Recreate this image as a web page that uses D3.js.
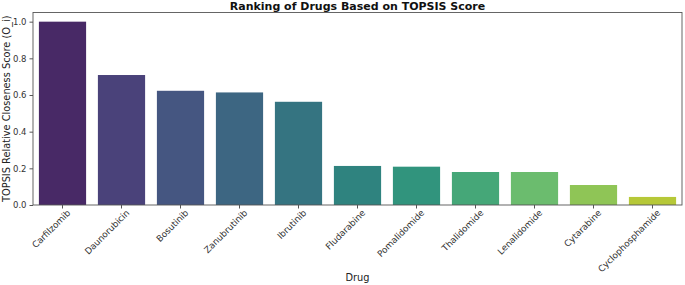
<!DOCTYPE html>
<html>
<head>
<meta charset="utf-8">
<script src="https://cdn.jsdelivr.net/npm/d3@7"></script>
<style>
  body { margin: 0; background: #fff; }
  text { font-family: "DejaVu Sans", sans-serif; }
</style>
</head>
<body>
<div id="chart"></div>
<script>
// data
const drugs = ["Carfilzomib", "Daunorubicin", "Bosutinib", "Zanubrutinib", "Ibrutinib",
  "Fludarabine", "Pomalidomide", "Thalidomide", "Lenalidomide", "Cytarabine", "Cyclophosphamide"];
const scores = [1.0, 0.709, 0.623, 0.614, 0.563, 0.213, 0.209, 0.180, 0.180, 0.109, 0.044];
const yTicks = [0.0, 0.2, 0.4, 0.6, 0.8, 1.0];

const W = 685, H = 285;
const margin = {top: 12.5, right: 3, bottom: 80, left: 33};
const width = W - margin.left - margin.right,
    height = H - margin.top - margin.bottom;

const svg = d3.select("#chart").append("svg")
    .attr("width", W)
    .attr("height", H);

const g = svg.append("g")
    .attr("transform", "translate(" + margin.left + "," + margin.top + ")");

const x = d3.scaleBand()
    .domain(drugs)
    .range([0, width])
    .paddingInner(0.2)
    .paddingOuter(0.1);

const y = d3.scaleLinear()
    .domain([0, 1.05])
    .range([height, 0]);

// seaborn viridis palette, desaturated by 0.75
const color = function(i) {
    const c = d3.hsl(d3.interpolateViridis((i + 1) / (drugs.length + 1)));
    c.s *= 0.75;
    return c.formatHex();
};

g.selectAll("rect.bar")
    .data(drugs)
    .enter()
    .append("rect")
    .attr("class", "bar")
    .attr("x", d => x(d))
    .attr("y", (d, i) => y(scores[i]))
    .attr("width", x.bandwidth())
    .attr("height", (d, i) => height - y(scores[i]))
    .attr("fill", (d, i) => color(i));

// frame
g.append("rect")
    .attr("width", width)
    .attr("height", height)
    .attr("fill", "none")
    .attr("stroke", "#555")
    .attr("stroke-width", 0.9);

// y axis
const yAxis = g.append("g")
    .call(d3.axisLeft(y).tickValues(yTicks).tickFormat(d3.format(".1f")).tickSize(3.5).tickPadding(3));
yAxis.select(".domain").remove();
yAxis.selectAll("line").attr("stroke", "#555");
yAxis.selectAll("text").attr("font-size", 8.5).attr("fill", "#333")
    .style("font-family", "DejaVu Sans, sans-serif");

// x axis
const xAxis = g.append("g")
    .attr("transform", "translate(0," + height + ")")
    .call(d3.axisBottom(x).tickSize(3.5).tickSizeOuter(0));
xAxis.select(".domain").remove();
xAxis.selectAll("line").attr("stroke", "#555");
xAxis.selectAll("text")
    .attr("font-size", 8.8)
    .attr("fill", "#333")
    .style("font-family", "DejaVu Sans, sans-serif")
    .style("text-anchor", "end")
    .attr("dy", "0.3em")
    .attr("transform", "translate(2,2)rotate(-45)");

// title
svg.append("text")
    .attr("x", margin.left + width / 2)
    .attr("y", 9.8)
    .attr("text-anchor", "middle")
    .attr("font-size", 11)
    .attr("font-weight", "bold")
    .attr("fill", "#111")
    .text("Ranking of Drugs Based on TOPSIS Score");

// axis labels
svg.append("text")
    .attr("x", margin.left + width / 2)
    .attr("y", 281)
    .attr("text-anchor", "middle")
    .attr("font-size", 9.8)
    .attr("fill", "#222")
    .text("Drug");

svg.append("text")
    .attr("transform", "translate(10," + (margin.top + height / 2) + ")rotate(-90)")
    .attr("text-anchor", "middle")
    .attr("font-size", 9.8)
    .attr("fill", "#222")
    .text("TOPSIS Relative Closeness Score (O_i)");
</script>
</body>
</html>
